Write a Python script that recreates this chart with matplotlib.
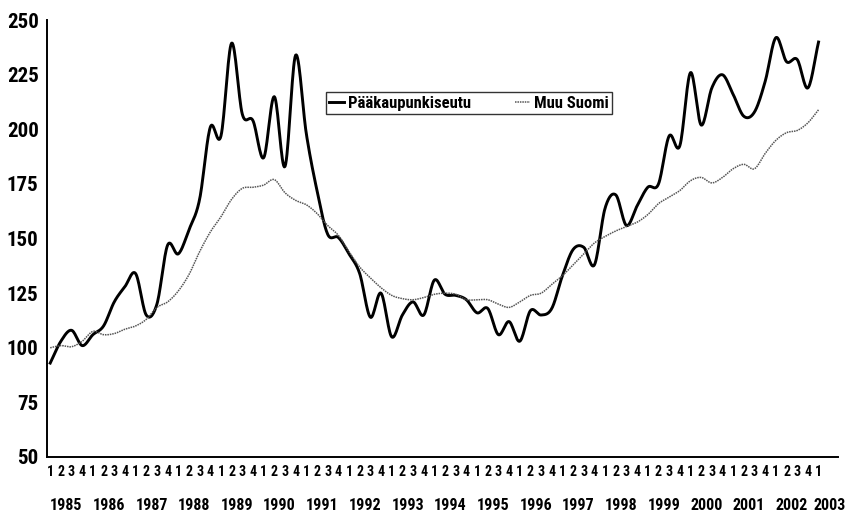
import numpy as np
import matplotlib.pyplot as plt

# quarterly index, 1985Q1 .. 2003Q1
years = list(range(1985, 2004))
quarter_labels = ["1", "2", "3", "4"] * 18 + ["1"]

paakaupunkiseutu = [
    93, 103, 108, 101, 106, 110, 121, 128, 134, 115, 120, 147,
    143, 154, 168, 201, 197, 239.5, 207, 204, 187, 215, 183, 234,
    198, 172, 152, 150.5, 143, 134, 114, 125, 105, 115, 121, 115,
    131, 124.5, 124, 122, 116, 118, 106, 112, 103, 117, 115, 118,
    133, 145, 146, 138, 164, 170, 156, 165, 173.5, 175, 197, 192.5,
    226, 202, 219, 225, 216, 206, 208, 222, 242, 231, 232, 219,
    240,
]
muu_suomi = [
    100, 101, 100.5, 103, 107.5, 106, 106.5, 108.5, 110, 113, 118.5, 121,
    126, 133.5, 144, 153, 160, 168, 173, 173.5, 174.5, 177, 171, 167.5,
    165.5, 161.5, 156, 151.5, 144, 137, 132, 127.5, 124, 122.5, 122, 123,
    124.5, 125, 124.5, 122, 122, 122, 120, 118.5, 121, 124, 125, 129,
    133, 138, 143, 148, 151, 153.5, 155.5, 157.5, 161, 166, 169, 172,
    176.5, 178, 175.5, 178, 182, 184, 182, 189, 195, 198.5, 199.5, 203,
    209,
]


def smooth(values, steps=16):
    """Catmull-Rom curve through the points, like a smoothed line in a spreadsheet chart."""
    y = np.asarray(values, dtype=float)
    p = np.concatenate([[2 * y[0] - y[1]], y, [2 * y[-1] - y[-2]]])
    xs, ys = [], []
    t = np.linspace(0, 1, steps, endpoint=False)
    for k in range(len(y) - 1):
        p0, p1, p2, p3 = p[k], p[k + 1], p[k + 2], p[k + 3]
        seg = 0.5 * (2 * p1 + (-p0 + p2) * t
                     + (2 * p0 - 5 * p1 + 4 * p2 - p3) * t ** 2
                     + (-p0 + 3 * p1 - 3 * p2 + p3) * t ** 3)
        xs.extend(k + t)
        ys.extend(seg)
    xs.append(len(y) - 1)
    ys.append(y[-1])
    return np.array(xs), np.array(ys)


plt.rcParams["font.family"] = ["Roboto Condensed", "Liberation Sans Narrow",
                               "Liberation Sans", "DejaVu Sans"]
plt.rcParams["font.weight"] = "bold"

fig = plt.figure(figsize=(8.61, 5.18), dpi=100)
ax = fig.add_axes([0.0546, 0.1178, 0.9184, 0.8432])

x1, y1 = smooth(paakaupunkiseutu)
x2, y2 = smooth(muu_suomi)
ax.plot(x1, y1, color="black", lw=2.1, label="Pääkaupunkiseutu")
ax.plot(x2, y2, color="#555555", lw=1.1, linestyle=(0, (1, 0.6)), label="Muu Suomi")

ax.set_xlim(-0.3, 73.8)
ax.set_ylim(50, 250)
ax.set_yticks(np.arange(50, 251, 25))
ax.set_xticks(np.arange(len(quarter_labels)))
ax.set_xticklabels(quarter_labels, fontsize=10, fontweight="bold")
ax.tick_params(axis="both", length=0)
ax.tick_params(axis="x", pad=6)
ax.tick_params(axis="y", pad=6, labelsize=15)

for s in ["top", "right"]:
    ax.spines[s].set_visible(False)
for s in ["left", "bottom"]:
    ax.spines[s].set_linewidth(1.4)

# year labels under each group of quarters
for k, yr in enumerate(years):
    xc = 4 * k + 1.5 if yr < 2003 else 4 * k + 1.0
    ax.text(xc, -0.11, str(yr), transform=ax.get_xaxis_transform(),
            ha="center", va="center", fontsize=11.5, fontweight="bold")

leg = ax.legend(loc="upper left", bbox_to_anchor=(0.3525, 0.835), ncol=2,
                frameon=True, fancybox=False, fontsize=12, handlelength=0.9,
                handletextpad=0.25, columnspacing=2.6, borderpad=0.2,
                borderaxespad=0)
leg.get_frame().set_edgecolor("black")
leg.get_frame().set_linewidth(1.0)

fig.savefig("out.png", dpi=100)
